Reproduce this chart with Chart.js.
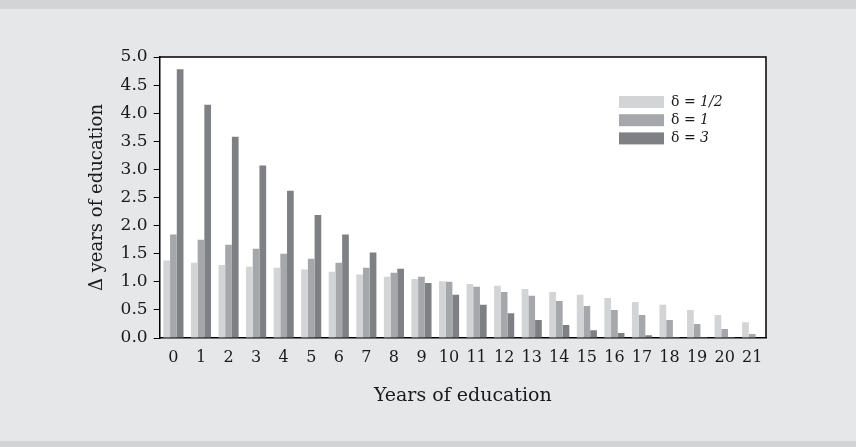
<!DOCTYPE html>
<html>
<head>
<meta charset="utf-8">
<script src="https://cdn.jsdelivr.net/npm/chart.js@4"></script>
<style>
	html, body { margin: 0; padding: 0; background: #e6e7e8; }
	#wrap { width: 856px; height: 447px; }
</style>
</head>
<body>
<div id="wrap"><canvas id="myChart"></canvas></div>
<script>
const ctx = document.getElementById('myChart');

const years = ['0', '1', '2', '3', '4', '5', '6', '7', '8', '9', '10', '11', '12', '13', '14', '15', '16', '17', '18', '19', '20', '21'];
const deltaHalf = [1.38, 1.34, 1.30, 1.27, 1.25, 1.22, 1.18, 1.13, 1.09, 1.05, 1.01, 0.96, 0.93, 0.87, 0.82, 0.77, 0.71, 0.64, 0.59, 0.50, 0.41, 0.28];
const deltaOne = [1.84, 1.75, 1.66, 1.59, 1.50, 1.41, 1.34, 1.25, 1.16, 1.09, 1.00, 0.91, 0.82, 0.75, 0.66, 0.57, 0.50, 0.41, 0.32, 0.25, 0.16, 0.07];
const deltaThree = [4.78, 4.15, 3.58, 3.07, 2.62, 2.19, 1.84, 1.52, 1.23, 0.98, 0.77, 0.59, 0.44, 0.32, 0.23, 0.14, 0.09, 0.05, 0.02, 0.02, 0.02, 0.01];
const legendValues = ['1/2', '1', '3'];

const font = 'DejaVu Serif';

// page background, top/bottom strips, white plot area
const backdrop = {
	id: 'backdrop',
	beforeDraw(chart) {
		const c = chart.ctx;
		const a = chart.chartArea;
		c.save();
		c.fillStyle = '#e6e7e8';
		c.fillRect(0, 0, chart.width, chart.height);
		c.fillStyle = '#d3d4d6';
		c.fillRect(0, 0, chart.width, 9);
		c.fillRect(0, 441, chart.width, chart.height - 441);
		c.fillStyle = '#ffffff';
		c.fillRect(a.left, a.top, a.right - a.left, a.bottom - a.top);
		c.restore();
	},
	afterDraw(chart) {
		const c = chart.ctx;
		const a = chart.chartArea;
		c.save();
		c.strokeStyle = '#000';
		c.lineWidth = 1.5;
		c.beginPath();
		c.moveTo(a.left, a.top);
		c.lineTo(a.right, a.top);
		c.lineTo(a.right, a.bottom);
		c.stroke();
		c.restore();
	},
};

// legend inside the plot, number in italics
const innerLegend = {
	id: 'innerLegend',
	afterDraw(chart) {
		const c = chart.ctx;
		const a = chart.chartArea;
		const x = a.right - 147;
		let y = a.top + 45;
		c.save();
		c.textBaseline = 'middle';
		chart.data.datasets.forEach((ds, i) => {
			c.fillStyle = ds.backgroundColor;
			c.fillRect(x, y - 6, 45, 12);
			c.fillStyle = '#1a1a1a';
			c.font = '14px "' + font + '"';
			const head = 'δ = ';
			c.fillText(head, x + 52, y);
			const w = c.measureText(head).width;
			c.font = 'italic 14px "' + font + '"';
			c.fillText(legendValues[i], x + 52 + w, y);
			y += 18.2;
		});
		c.restore();
	},
};

new Chart(ctx, {
	type: 'bar',
	data: {
		labels: years,
		datasets: [
			{ label: 'δ = 1/2', data: deltaHalf, backgroundColor: '#d3d4d6' },
			{ label: 'δ = 1', data: deltaOne, backgroundColor: '#a6a7aa' },
			{ label: 'δ = 3', data: deltaThree, backgroundColor: '#7f8083' },
		],
	},
	options: {
		responsive: true,
		maintainAspectRatio: false,
		animation: false,
		layout: {
			padding: { left: 87, right: 90, top: 57, bottom: 40 },
		},
		datasets: {
			bar: { barPercentage: 1, categoryPercentage: 0.73 },
		},
		plugins: {
			legend: { display: false },
			tooltip: false,
		},
		scales: {
			x: {
				grid: { display: false, drawTicks: false },
				border: { display: true, color: '#000', width: 1.5 },
				ticks: {
					color: '#1a1a1a',
					padding: 10,
					maxRotation: 0,
					autoSkip: false,
					font: { family: font, size: 16 },
				},
				title: {
					display: true,
					text: 'Years of education',
					color: '#1a1a1a',
					padding: { top: 7, bottom: 0 },
					font: { family: font, size: 19 },
				},
			},
			y: {
				min: 0,
				max: 5,
				grid: { drawOnChartArea: false, drawTicks: true, tickLength: 6, color: '#000' },
				border: { display: true, color: '#000', width: 1.5 },
				ticks: {
					stepSize: 0.5,
					color: '#1a1a1a',
					padding: 6,
					font: { family: font, size: 17 },
					callback: (v) => Number(v).toFixed(1),
				},
				title: {
					display: true,
					text: 'Δ years of education',
					color: '#1a1a1a',
					padding: { top: 0, bottom: 6 },
					font: { family: font, size: 18 },
				},
			},
		},
	},
	plugins: [backdrop, innerLegend],
});
</script>
</body>
</html>
